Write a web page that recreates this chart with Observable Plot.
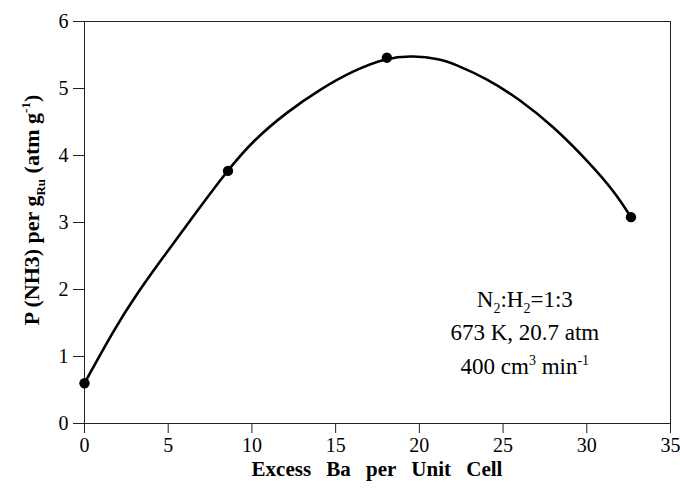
<!DOCTYPE html>
<html><head><meta charset="utf-8">
<script src="https://cdn.jsdelivr.net/npm/d3@7"></script>
<script src="https://cdn.jsdelivr.net/npm/@observablehq/plot@0.6"></script>
<style>
body{margin:0;background:#fff}
</style>
</head><body><div id="chart"></div>
<script>
// Measured points
const excessBa = [0, 8.57, 18.06, 32.64];
const rateNH3 = [0.60, 3.77, 5.46, 3.08];
// Fitted curve
const fitX = [0, 1.73, 3.13, 4.72, 6.31, 8.51, 10.1, 12.09, 14.08, 16.07, 18.06, 19.6, 21.25, 22.04, 24.04, 26.03, 28.02, 30.01, 31.6, 32.64];
const fitY = [0.60, 1.39, 1.94, 2.49, 3.03, 3.77, 4.23, 4.65, 4.99, 5.27, 5.46, 5.49, 5.44, 5.37, 5.15, 4.83, 4.43, 3.93, 3.48, 3.08];
const xTicks = [0, 5, 10, 15, 20, 25, 30, 35];
const yTicks = [0, 1, 2, 3, 4, 5, 6];
const xTitle = "Excess Ba per Unit Cell";
// Annotation lines: segments [text, kind] kind: n normal, sub, sup
const noteLines = [
  [["N", "n"], ["2", "sub"], [":H", "n"], ["2", "sub"], ["=1:3", "n"]],
  [["673 K, 20.7 atm", "n"]],
  [["400 cm", "n"], ["3", "sup"], [" min", "n"], ["-1", "sup"]]
];
const yTitle = [["P (NH3) per g", "n"], ["Ru", "sub"], [" (atm g", "n"], ["-1", "sup"], [")", "n"]];
const notePos = {x: 26.33, y: [1.736, 1.243, 0.736]};

const points = excessBa.map((x, i) => ({x, y: rateNH3[i]}));
const fit = fitX.map((x, i) => ({x, y: fitY[i]}));
const serif = "Liberation Serif";

const chart = Plot.plot({
  width: 680, height: 490,
  marginLeft: 84, marginRight: 10, marginTop: 21, marginBottom: 67,
  style: {background: "#fff", color: "#000"},
  x: {domain: [0, 35]},
  y: {domain: [0, 6]},
  marks: [
    Plot.frame({stroke: "#222", strokeWidth: 1}),
    Plot.axisX({ticks: xTicks, tickSize: 10, tickPadding: 4, label: null, fontSize: 20, fontFamily: serif, stroke: "#222", tickFormat: d3.format("d")}),
    Plot.axisY({ticks: yTicks, tickSize: 11, tickPadding: 5, label: null, fontSize: 20, fontFamily: serif, stroke: "#222", tickFormat: d3.format("d")}),
    Plot.line(fit, {x: "x", y: "y", curve: "basis", stroke: "#000", strokeWidth: 2.6}),
    Plot.dot(points, {x: "x", y: "y", r: 5.2, fill: "#000", stroke: "none"})
  ]
});
chart.setAttribute("font-family", serif);
chart.style.fontFamily = serif;
document.getElementById("chart").appendChild(chart);

const svg = d3.select(chart);
function rich(sel, segs, size, subSize, subDy, supDy) {
  let shift = 0;
  segs.forEach(([t, k]) => {
    const want = k === "sub" ? subDy : k === "sup" ? -supDy : 0;
    sel.append("tspan")
      .attr("dy", want - shift)
      .attr("font-size", k === "n" ? size : subSize)
      .attr("font-family", serif)
      .text(t);
    shift = want;
  });
}
const xs = chart.scale("x"), ys = chart.scale("y");
// x title
svg.append("text")
  .attr("x", (xs.range[0] + xs.range[1]) / 2).attr("y", 476)
  .attr("text-anchor", "middle").attr("font-weight", "bold")
  .attr("font-family", serif)
  .attr("font-size", 21).attr("word-spacing", "10px")
  .attr("fill", "#000")
  .text(xTitle);
// y title
const yt = svg.append("text")
  .attr("transform", "translate(39,210) rotate(-90)")
  .attr("text-anchor", "middle").attr("font-weight", "bold")
  .attr("font-family", serif)
  .attr("fill", "#000");
rich(yt, yTitle, 22, 13, 6, 9);
// annotation
noteLines.forEach((segs, i) => {
  const t = svg.append("text")
    .attr("x", xs.apply(notePos.x)).attr("y", ys.apply(notePos.y[i]))
    .attr("text-anchor", "middle").attr("fill", "#000")
    .attr("font-family", serif);
  rich(t, segs, 23, 14, 6, 9);
});
</script>
</body></html>
